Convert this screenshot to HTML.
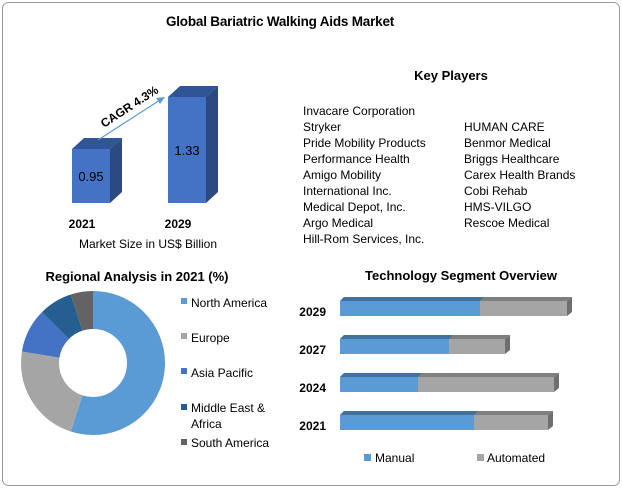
<!DOCTYPE html>
<html><head><style>
body{margin:0;background:#fff;}
svg{display:block;font-family:"Liberation Sans",sans-serif;}
</style></head><body>
<svg width="622" height="488" viewBox="0 0 622 488">
<rect x="2.5" y="2.5" width="617" height="483" rx="6" fill="#fff" stroke="#9a9a9a"/>
<text x="280" y="26" font-size="13.5" font-weight="bold" text-anchor="middle" letter-spacing="-0.2">Global Bariatric Walking Aids Market</text>
<polygon points="72,149 84,138 122,138 110,149" fill="#2f5597"/>
<polygon points="110,149 122,138 122,192 110,203" fill="#2a4a80"/>
<rect x="72" y="149" width="38" height="54" fill="#4472c4"/>
<polygon points="168,97 180,86 218,86 206,97" fill="#2f5597"/>
<polygon points="206,97 218,86 218,192 206,203" fill="#2a4a80"/>
<rect x="168" y="97" width="38" height="106" fill="#4472c4"/>
<text x="91" y="181" font-size="13" text-anchor="middle">0.95</text>
<text x="187" y="155" font-size="13" text-anchor="middle">1.33</text>
<line x1="98" y1="140" x2="160" y2="100" stroke="#5b9bd5" stroke-width="1.2"/>
<polygon points="165,97 156,98 160,104" fill="#5b9bd5"/>
<text x="0" y="0" font-size="12" font-weight="bold" transform="translate(104,128) rotate(-33)">CAGR 4.3%</text>
<text x="82" y="228" font-size="12" font-weight="bold" text-anchor="middle">2021</text>
<text x="178" y="228" font-size="12" font-weight="bold" text-anchor="middle">2029</text>
<text x="148" y="248" font-size="12" text-anchor="middle">Market Size in US$ Billion</text>
<text x="451" y="80" font-size="13" font-weight="bold" text-anchor="middle">Key Players</text>
<g font-size="12">
<text x="303" y="115">Invacare Corporation</text>
<text x="303" y="131">Stryker</text>
<text x="303" y="147">Pride Mobility Products</text>
<text x="303" y="163">Performance Health</text>
<text x="303" y="179">Amigo Mobility</text>
<text x="303" y="195">International Inc.</text>
<text x="303" y="211">Medical Depot, Inc.</text>
<text x="303" y="227">Argo Medical</text>
<text x="303" y="243">Hill-Rom Services, Inc.</text>
<text x="464" y="131">HUMAN CARE</text>
<text x="464" y="147">Benmor Medical</text>
<text x="464" y="163">Briggs Healthcare</text>
<text x="464" y="179">Carex Health Brands</text>
<text x="464" y="195">Cobi Rehab</text>
<text x="464" y="211">HMS-VILGO</text>
<text x="464" y="227">Rescoe Medical</text>
</g>
<text x="137" y="281" font-size="13" font-weight="bold" text-anchor="middle">Regional Analysis in 2021 (%)</text>
<g transform="translate(93,363)">
<circle r="53" fill="none" stroke="#5b9bd5" stroke-width="38" stroke-dasharray="183 400" transform="rotate(-90)"/>
<circle r="53" fill="none" stroke="#a5a5a5" stroke-width="38" stroke-dasharray="0 183 75 400" transform="rotate(-90)"/>
<circle r="53" fill="none" stroke="#4472c4" stroke-width="38" stroke-dasharray="0 258 33 400" transform="rotate(-90)"/>
<circle r="53" fill="none" stroke="#255e91" stroke-width="38" stroke-dasharray="0 291 25 400" transform="rotate(-90)"/>
<circle r="53" fill="none" stroke="#636363" stroke-width="38" stroke-dasharray="0 316 17 400" transform="rotate(-90)"/>
</g>
<g font-size="12">
<rect x="181" y="298" width="6" height="6" fill="#5b9bd5"/><text x="191" y="307">North America</text>
<rect x="181" y="333" width="6" height="6" fill="#a5a5a5"/><text x="191" y="342">Europe</text>
<rect x="181" y="368" width="6" height="6" fill="#4472c4"/><text x="191" y="377">Asia Pacific</text>
<rect x="181" y="404" width="6" height="6" fill="#255e91"/><text x="191" y="412">Middle East &amp;</text>
<text x="191" y="428">Africa</text>
<rect x="181" y="439" width="6" height="6" fill="#636363"/><text x="191" y="447">South America</text>
</g>
<text x="461" y="280" font-size="13" font-weight="bold" text-anchor="middle">Technology Segment Overview</text>
<g font-size="12" font-weight="bold" text-anchor="end">
<text x="326" y="316">2029</text><text x="326" y="354">2027</text><text x="326" y="392">2024</text><text x="326" y="430">2021</text>
</g>
<g>
<polygon points="340,301 344,297 572,297 567,301" fill="#7f7f7f"/><polygon points="340,301 344,297 484,297 480,301" fill="#41719c"/>
<rect x="340" y="301" width="140" height="15" fill="#5b9bd5"/><rect x="480" y="301" width="87" height="15" fill="#a5a5a5"/>
<polygon points="567,301 572,297 572,312 567,316" fill="#6f6f6f"/>
<polygon points="340,339 344,335 510,335 505,339" fill="#7f7f7f"/><polygon points="340,339 344,335 453,335 449,339" fill="#41719c"/>
<rect x="340" y="339" width="109" height="15" fill="#5b9bd5"/><rect x="449" y="339" width="56" height="15" fill="#a5a5a5"/>
<polygon points="505,339 510,335 510,350 505,354" fill="#6f6f6f"/>
<polygon points="340,377 344,373 559,373 554,377" fill="#7f7f7f"/><polygon points="340,377 344,373 422,373 418,377" fill="#41719c"/>
<rect x="340" y="377" width="78" height="15" fill="#5b9bd5"/><rect x="418" y="377" width="136" height="15" fill="#a5a5a5"/>
<polygon points="554,377 559,373 559,388 554,392" fill="#6f6f6f"/>
<polygon points="340,415 344,411 553,411 548,415" fill="#7f7f7f"/><polygon points="340,415 344,411 478,411 474,415" fill="#41719c"/>
<rect x="340" y="415" width="134" height="15" fill="#5b9bd5"/><rect x="474" y="415" width="74" height="15" fill="#a5a5a5"/>
<polygon points="548,415 553,411 553,426 548,430" fill="#6f6f6f"/>
</g>
<g font-size="12">
<rect x="364" y="454" width="7" height="7" fill="#5b9bd5"/><text x="375" y="462">Manual</text>
<rect x="477" y="454" width="7" height="7" fill="#a5a5a5"/><text x="487" y="462">Automated</text>
</g>
</svg>
</body></html>
